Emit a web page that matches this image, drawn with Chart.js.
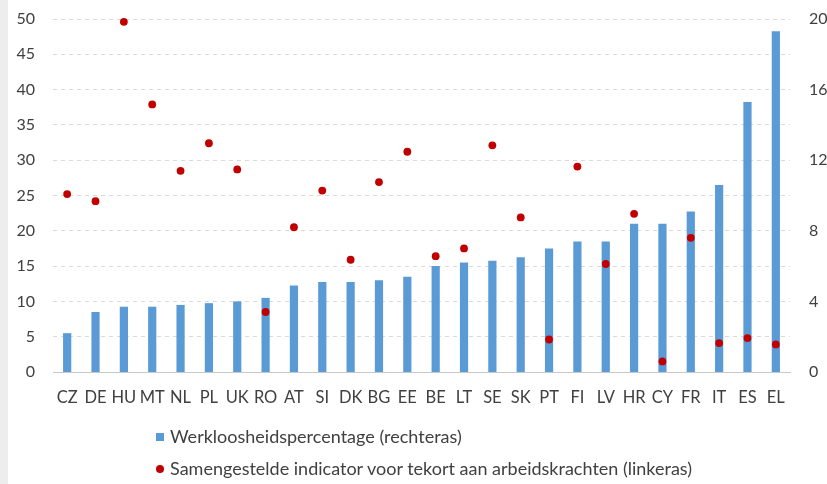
<!DOCTYPE html>
<html>
<head>
<meta charset="utf-8">
<script src="https://cdn.jsdelivr.net/npm/chart.js@4.4.1/dist/chart.umd.min.js"></script>
<style>
    html, body { margin: 0; padding: 0; background: #fff; }
    #wrap { position: relative; width: 827px; height: 484px; overflow: hidden; background: #fff; }
    #strip { position: absolute; left: 0; top: 0; width: 8px; height: 484px; background: #ededed; }
    #chart { position: absolute; left: 0; top: 0; }
    .legend-row { position: absolute; left: 156px; height: 22px; line-height: 22px;
        font: 18px Lato, sans-serif; color: #404040; white-space: nowrap; }
    .legend-row .mark { display: inline-block; width: 8px; height: 8px; margin-right: 6px; vertical-align: 2px; }
    .legend-row .box { background: #5b9bd5; }
    .legend-row .dot { background: #c00000; border-radius: 50%; }
</style>
</head>
<body>
<div id="wrap">
    <div id="strip"></div>
    <canvas id="chart" width="827" height="484"></canvas>
    <div class="legend-row" id="legendBars" style="top:425px"><span class="mark box"></span><span class="label"></span></div>
    <div class="legend-row" id="legendDots" style="top:457px"><span class="mark dot"></span><span class="label"></span></div>
</div>
<script>
// Countries, sorted by unemployment rate
const countries = ['CZ', 'DE', 'HU', 'MT', 'NL', 'PL', 'UK', 'RO', 'AT', 'SI', 'DK', 'BG', 'EE',
    'BE', 'LT', 'SE', 'SK', 'PT', 'FI', 'LV', 'HR', 'CY', 'FR', 'IT', 'ES', 'EL'];

// Unemployment rate (right axis)
const unemploymentRate = [2.2, 3.4, 3.7, 3.7, 3.8, 3.9, 4.0, 4.2, 4.9, 5.1, 5.1, 5.2, 5.4,
    6.0, 6.2, 6.3, 6.5, 7.0, 7.4, 7.4, 8.4, 8.4, 9.1, 10.6, 15.3, 19.3];

// Composite labour shortage indicator (left axis)
const shortageIndicator = [25.2, 24.2, 49.6, 37.9, 28.5, 32.4, 28.7, 8.5, 20.5, 25.7, 15.9, 26.9, 31.2,
    16.4, 17.5, 32.1, 21.9, 4.6, 29.1, 15.3, 22.4, 1.5, 19.0, 4.1, 4.8, 3.9];

const seriesLabels = ['Werkloosheidspercentage (rechteras)',
    'Samengestelde indicator voor tekort aan arbeidskrachten (linkeras)'];

const leftAxis = { min: 0, max: 50, step: 5 };
const rightAxis = { min: 0, max: 20, step: 4 };

const tickColor = '#404040';

document.querySelector('#legendBars .label').textContent = seriesLabels[0];
document.querySelector('#legendDots .label').textContent = seriesLabels[1];

// fixed axis width, and no extra vertical padding from the tick labels
const fixWidth = w => scale => {
    scale.width = w;
    scale.paddingTop = 0;
    scale.paddingBottom = 0;
};

new Chart(document.getElementById('chart').getContext('2d'), {
    data: {
        labels: countries,
        datasets: [
            {
                type: 'line',
                label: seriesLabels[1],
                data: shortageIndicator,
                yAxisID: 'yLeft',
                showLine: false,
                clip: false,
                pointRadius: 3.9,
                pointBackgroundColor: '#c00000',
                pointBorderColor: '#c00000',
                pointBorderWidth: 0,
                order: 0
            },
            {
                type: 'bar',
                label: seriesLabels[0],
                data: unemploymentRate,
                yAxisID: 'yRight',
                backgroundColor: '#5b9bd5',
                barPercentage: 0.29,
                categoryPercentage: 1,
                order: 1
            }
        ]
    },
    options: {
        responsive: false,
        animation: false,
        devicePixelRatio: 1,
        layout: { padding: { top: 19, bottom: 72, left: 0, right: 0 } },
        plugins: {
            legend: { display: false },
            tooltip: { enabled: false }
        },
        scales: {
            x: {
                grid: { display: false },
                border: { display: true, color: '#c8c8c8', width: 1 },
                ticks: {
                    color: tickColor,
                    font: { family: 'Lato, sans-serif', size: 16.5 },
                    padding: 8,
                    autoSkip: false,
                    maxRotation: 0
                },
                afterFit: scale => { scale.height = 40; }
            },
            yLeft: {
                position: 'left',
                min: leftAxis.min,
                max: leftAxis.max,
                ticks: { stepSize: leftAxis.step, color: tickColor, font: { family: 'Lato, sans-serif', size: 16 }, padding: 18 },
                grid: {
                    drawTicks: false,
                    color: ctx => ctx.tick && ctx.tick.value === 0 ? 'rgba(0,0,0,0)' : '#d9d9d9'
                },
                border: { display: false, dash: [4, 4] },
                afterFit: fixWidth(53)
            },
            yRight: {
                position: 'right',
                min: rightAxis.min,
                max: rightAxis.max,
                ticks: { stepSize: rightAxis.step, color: tickColor, font: { family: 'Lato, sans-serif', size: 16 }, padding: 19 },
                grid: { display: false, drawTicks: false },
                border: { display: false },
                afterFit: fixWidth(37)
            }
        }
    }
});
</script>
</body>
</html>
